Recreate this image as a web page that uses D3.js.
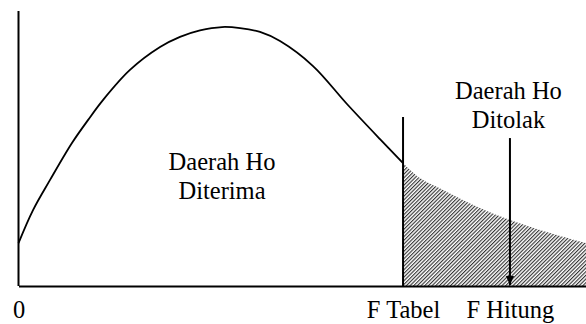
<!DOCTYPE html>
<html>
<head>
<meta charset="utf-8">
<script src="https://cdn.jsdelivr.net/npm/d3@7"></script>
<style>
  html, body { margin: 0; padding: 0; background: #fff; }
  svg { display: block; }
</style>
</head>
<body>
<svg id="chart" width="586" height="324"></svg>
<script>
// Curve (x in F units, y as relative density)
const curveX = [0, 0.128, 0.278, 0.471, 0.612, 0.744, 0.982, 1.247, 1.423, 1.599, 1.793, 1.952, 2.128, 2.304, 2.595, 2.894, 3.185, 3.388, 3.537, 3.775, 4.066, 4.330, 4.683, 5.0];
const curveY = [0.165, 0.292, 0.408, 0.550, 0.638, 0.715, 0.831, 0.919, 0.958, 0.983, 0.996, 0.992, 0.977, 0.942, 0.846, 0.700, 0.565, 0.473, 0.415, 0.362, 0.300, 0.254, 0.204, 0.165];
const fTabel = 3.388;
const fHitung = 4.33;
const tickValues = [0, fTabel, fHitung];
const tickLabels = ["0", "F Tabel", "F Hitung"];
const acceptLabel = ["Daerah Ho", "Diterima"];
const rejectLabel = ["Daerah Ho", "Ditolak"];
const yAxisTop = 1.058;
const fTabelLineTop = 0.65;
const arrowTop = 0.569;

const FONT = "Liberation Serif";
const FS = 24.5;

const svg = d3.select("#chart");
const x = d3.scaleLinear().domain([0, 5]).range([18.5, 586]);
const y = d3.scaleLinear().domain([0, 1]).range([286, 26]);

const pts = curveX.map((v, i) => ({ x: v, y: curveY[i] }));
const leftPts = pts.filter(p => p.x <= fTabel + 1e-9);
const rightPts = pts.filter(p => p.x >= fTabel - 1e-9);

const defs = svg.append("defs");
const pat = defs.append("pattern")
  .attr("id", "hatch")
  .attr("patternUnits", "userSpaceOnUse")
  .attr("width", 2.6).attr("height", 10)
  .attr("patternTransform", "rotate(45)");
pat.append("line")
  .attr("x1", 0.6).attr("y1", 0).attr("x2", 0.6).attr("y2", 10)
  .attr("stroke", "#1a1a1a").attr("stroke-width", 1.0);

defs.append("marker")
  .attr("id", "arrow")
  .attr("viewBox", "0 0 10 10")
  .attr("refX", 10).attr("refY", 5)
  .attr("markerWidth", 9).attr("markerHeight", 9)
  .attr("markerUnits", "userSpaceOnUse")
  .attr("orient", "auto")
  .append("path").attr("d", "M0,0.5 L10,5 L0,9.5 Z").attr("fill", "#000");

// Hatched rejection area
const area = d3.area().x(d => x(d.x)).y0(y(0)).y1(d => y(d.y)).curve(d3.curveCatmullRom);
svg.append("path").datum(rightPts).attr("d", area).attr("fill", "url(#hatch)");

// Curve up to F Tabel
const line = d3.line().x(d => x(d.x)).y(d => y(d.y)).curve(d3.curveCatmullRom);
svg.append("path").datum(leftPts).attr("d", line)
  .attr("fill", "none").attr("stroke", "#000").attr("stroke-width", 1.8);

// y axis line
svg.append("line")
  .attr("x1", x(0)).attr("x2", x(0)).attr("y1", y(yAxisTop)).attr("y2", y(0))
  .attr("stroke", "#000").attr("stroke-width", 2);

// F Tabel vertical line
svg.append("line")
  .attr("x1", x(fTabel)).attr("x2", x(fTabel)).attr("y1", y(fTabelLineTop)).attr("y2", y(0))
  .attr("stroke", "#000").attr("stroke-width", 2);

// x axis
const xAxis = d3.axisBottom(x)
  .tickValues(tickValues)
  .tickFormat((d, i) => tickLabels[i])
  .tickSize(0).tickSizeOuter(0).tickPadding(15);
const gx = svg.append("g").attr("transform", `translate(0,${y(0)})`).call(xAxis);
gx.attr("font-family", FONT).attr("font-size", FS);
gx.select(".domain").attr("stroke", "#000").attr("stroke-width", 2);
gx.selectAll(".tick text")
  .attr("font-family", FONT)
  .attr("font-size", FS).attr("fill", "#000");

// arrow to F Hitung
svg.append("line")
  .attr("x1", x(fHitung)).attr("x2", x(fHitung))
  .attr("y1", y(arrowTop)).attr("y2", y(0) - 1)
  .attr("stroke", "#000").attr("stroke-width", 2)
  .attr("marker-end", "url(#arrow)");

// Labels (one text element per line)
function label(lines, cx, baseline) {
  lines.forEach((s, i) => {
    svg.append("text")
      .attr("x", cx).attr("y", baseline + i * 28.5)
      .attr("text-anchor", "middle")
      .attr("font-size", FS).attr("font-family", FONT).attr("fill", "#000")
      .text(s);
  });
}
label(acceptLabel, 222, 170);
label(rejectLabel, x(fHitung) - 1.5, 99);
</script>
</body>
</html>
